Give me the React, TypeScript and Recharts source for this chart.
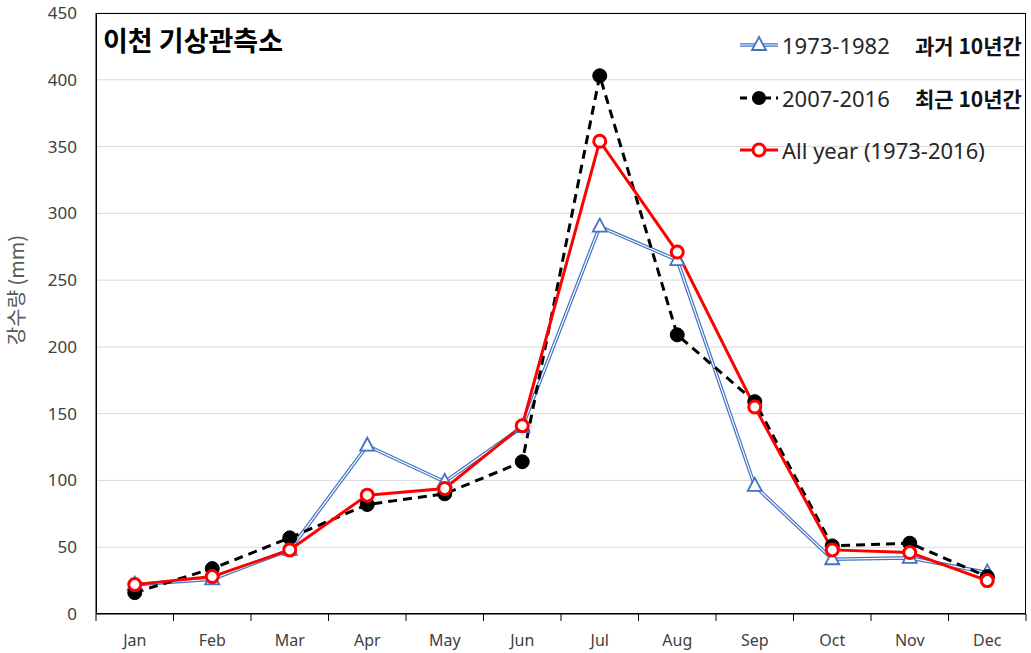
import { LineChart, Line, XAxis, YAxis, CartesianGrid } from 'recharts'

const months = ['Jan', 'Feb', 'Mar', 'Apr', 'May', 'Jun', 'Jul', 'Aug', 'Sep', 'Oct', 'Nov', 'Dec']
// 1973-1982 (과거 10년간)
const past = [22, 26, 48, 126, 99, 140, 290, 265, 96, 41, 42, 31]
// 2007-2016 (최근 10년간)
const recent = [16, 34, 57, 82, 90, 114, 403, 209, 159, 51, 53, 28]
// All year (1973-2016)
const allYear = [22, 28, 48, 89, 94, 141, 354, 271, 155, 48, 46, 25]
const yTicks = [0, 50, 100, 150, 200, 250, 300, 350, 400, 450]

const data = months.map((m, i) => ({ month: m, past: past[i], recent: recent[i], all: allYear[i] }))

const W = 1031
const H = 653
const PLOT_L = 96
const PLOT_R = 1026
const PLOT_T = 13
const PLOT_B = 614
const BAND = (PLOT_R - PLOT_L) / months.length

const BLUE = '#4472C4'
const FONT = '"Noto Sans", "Noto Sans CJK KR", sans-serif'
const KFONT = '"Noto Sans CJK KR", "Noto Sans", sans-serif'

const Triangle = (props: any) => {
  const { cx, cy } = props
  if (cx == null || cy == null) return null
  return (
    <polygon
      points={`${cx},${cy - 8} ${cx - 7},${cy + 5} ${cx + 7},${cy + 5}`}
      fill="#fff"
      stroke={BLUE}
      strokeWidth={1.8}
    />
  )
}

const MonthTick = (props: any) => {
  const { x, y, payload, index } = props
  const half = BAND / 2
  return (
    <g>
      <line x1={x - half} x2={x - half} y1={y} y2={y + 7} stroke="#000" strokeWidth={1} />
      {index === months.length - 1 && (
        <line x1={x + half} x2={x + half} y1={y} y2={y + 7} stroke="#000" strokeWidth={1} />
      )}
      <text x={x} y={y + 32} textAnchor="middle" fill="#404040" fontSize={16} fontFamily={FONT}>
        {payload.value}
      </text>
    </g>
  )
}

const LegendRow = ({ top, marker, label, note }: any) => (
  <div style={{ position: 'absolute', left: 0, top, height: 30, width: 300 }}>
    <svg width={44} height={30} style={{ position: 'absolute', left: 0, top: 0 }}>{marker}</svg>
    <span
      style={{
        position: 'absolute',
        left: 44,
        top: 0,
        lineHeight: '30px',
        fontSize: 22,
        fontFamily: FONT,
        color: '#262626',
        whiteSpace: 'nowrap',
      }}
    >
      {label}
    </span>
    {note && (
      <span
        style={{
          position: 'absolute',
          left: 177,
          top: 0,
          lineHeight: '30px',
          fontSize: 21,
          fontWeight: 'bold',
          fontFamily: KFONT,
          color: '#111',
          whiteSpace: 'nowrap',
        }}
      >
        {note}
      </span>
    )}
  </div>
)

const App = () => {
  return (
    <div style={{ position: 'absolute', left: 0, top: 0, width: W, height: H, background: '#fff' }}>
      <LineChart width={W} height={H} data={data} margin={{ top: PLOT_T, right: W - PLOT_R, left: 0, bottom: 0 }}>
        <CartesianGrid horizontal vertical={false} stroke="#d9d9d9" strokeWidth={1} />
        <XAxis
          dataKey="month"
          scale="band"
          height={H - PLOT_B}
          axisLine={{ stroke: '#000', strokeWidth: 1 }}
          tickLine={false}
          tickSize={0}
          tickMargin={0}
          interval={0}
          tick={<MonthTick />}
        />
        <YAxis
          width={PLOT_L}
          domain={[0, 450]}
          ticks={yTicks}
          interval={0}
          axisLine={{ stroke: '#000', strokeWidth: 1 }}
          tickLine={false}
          tickSize={0}
          tickMargin={19}
          tick={{ fill: '#404040', fontSize: 17, fontFamily: FONT }}
        />
        {/* 1973-1982: double blue line */}
        <Line
          dataKey="past"
          stroke={BLUE}
          strokeWidth={3.6}
          dot={false}
          activeDot={false}
          isAnimationActive={false}
        />
        <Line
          dataKey="past"
          stroke="#fff"
          strokeWidth={1.2}
          dot={<Triangle />}
          activeDot={false}
          isAnimationActive={false}
        />
        {/* 2007-2016 */}
        <Line
          dataKey="recent"
          stroke="#000"
          strokeWidth={3}
          strokeDasharray="9 6"
          dot={{ r: 7, fill: '#000', stroke: '#000', strokeWidth: 1, strokeDasharray: '' }}
          activeDot={false}
          isAnimationActive={false}
        />
        {/* All year */}
        <Line
          dataKey="all"
          stroke="#ff0000"
          strokeWidth={3}
          dot={{ r: 6, fill: '#fff', stroke: '#ff0000', strokeWidth: 3 }}
          activeDot={false}
          isAnimationActive={false}
        />
      </LineChart>

      {/* plot border */}
      <div
        style={{
          position: 'absolute',
          left: PLOT_L,
          top: PLOT_T,
          width: PLOT_R - PLOT_L,
          height: PLOT_B - PLOT_T,
          border: '1px solid #000',
          boxSizing: 'border-box',
          pointerEvents: 'none',
        }}
      />

      {/* title */}
      <div
        style={{
          position: 'absolute',
          left: 103,
          top: 20,
          fontSize: 27,
          fontWeight: 'bold',
          fontFamily: KFONT,
          color: '#000',
          whiteSpace: 'nowrap',
          lineHeight: '40px',
        }}
      >
        이천 기상관측소
      </div>

      {/* y-axis title */}
      <svg width={40} height={H} style={{ position: 'absolute', left: 0, top: 0 }}>
        <text
          x={24}
          y={290}
          transform="rotate(-90 24 290)"
          textAnchor="middle"
          fill="#595959"
          fontSize={20}
          fontFamily={KFONT}
        >
          강수량 (mm)
        </text>
      </svg>

      {/* legend */}
      <div style={{ position: 'absolute', left: 738, top: 30, width: 293, height: 140 }}>
        <LegendRow
          top={0}
          label="1973-1982"
          note="과거 10년간"
          marker={
            <g>
              <line x1={2} x2={40} y1={15} y2={15} stroke={BLUE} strokeWidth={3.6} />
              <line x1={2} x2={40} y1={15} y2={15} stroke="#fff" strokeWidth={1.2} />
              <polygon points="21,7 14,20 28,20" fill="#fff" stroke={BLUE} strokeWidth={1.8} />
            </g>
          }
        />
        <LegendRow
          top={53}
          label="2007-2016"
          note="최근 10년간"
          marker={
            <g>
              <line x1={2} x2={40} y1={15} y2={15} stroke="#000" strokeWidth={3} strokeDasharray="7 5" />
              <circle cx={21} cy={15} r={7} fill="#000" />
            </g>
          }
        />
        <LegendRow
          top={105}
          label="All year (1973-2016)"
          marker={
            <g>
              <line x1={2} x2={40} y1={15} y2={15} stroke="#ff0000" strokeWidth={3} />
              <circle cx={21} cy={15} r={6} fill="#fff" stroke="#ff0000" strokeWidth={3} />
            </g>
          }
        />
      </div>
    </div>
  )
}

export default App
